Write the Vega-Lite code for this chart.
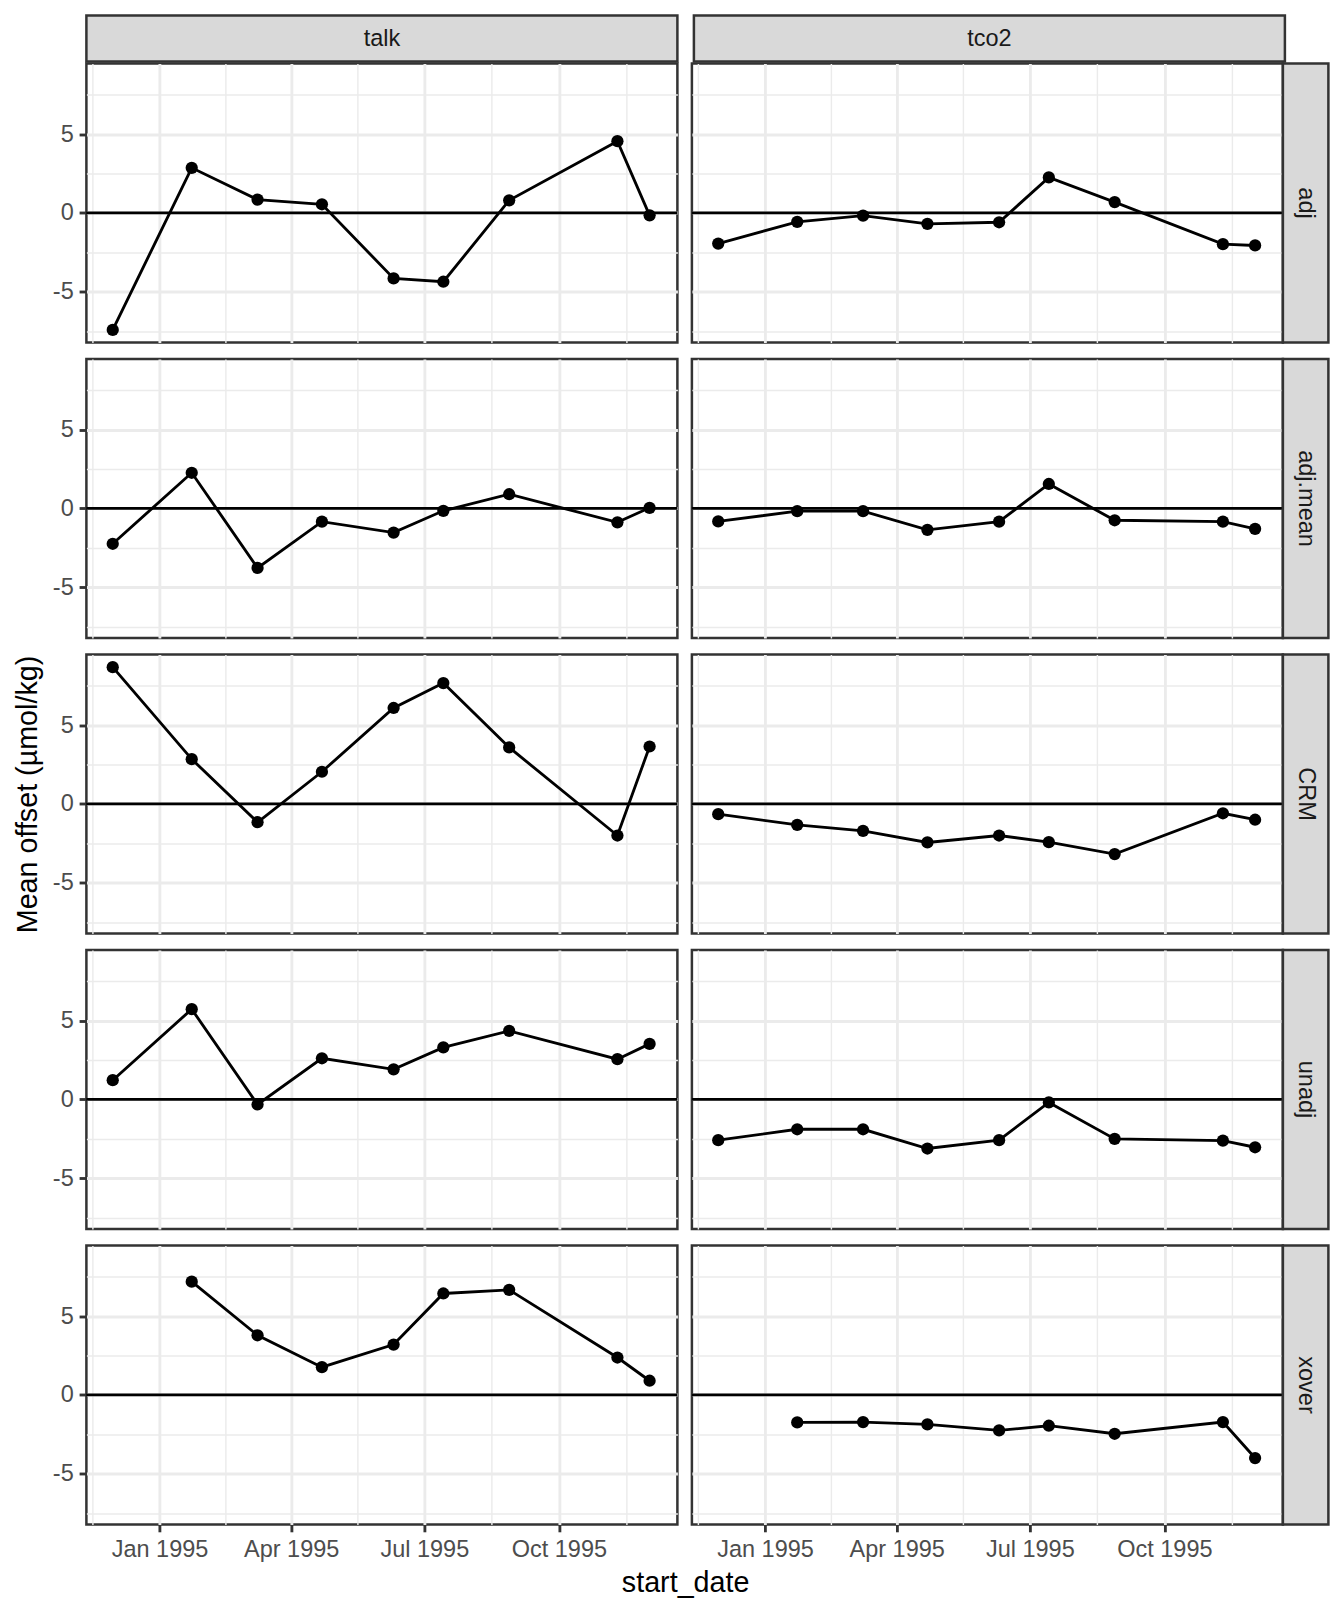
{
  "$schema": "https://vega.github.io/schema/vega-lite/v6.json",
  "autosize": {"type": "pad"},
  "padding": {"left": 11.4, "top": 13.5, "right": 5, "bottom": 5},
  "background": "white",
  "config": {
    "font": "Liberation Sans",
    "view": {"stroke": "#333333", "strokeWidth": 2.5, "fill": "white"},
    "axis": {
      "domain": false,
      "gridColor": "#EBEBEB",
      "gridOpacity": 1,
      "tickColor": "#333333",
      "tickWidth": 2.85,
      "tickSize": 7.3,
      "labelFont": "Liberation Sans",
      "labelFontSize": 23.5,
      "labelColor": "#4D4D4D",
      "labelPadding": 5.9,
      "titleFont": "Liberation Sans",
      "titleFontSize": 28.7,
      "titleFontWeight": "normal",
      "titleColor": "black"
    }
  },
  "datasets": {
    "offsets": [
      {"param": "talk", "type": "adj", "date": "1994-11-30", "offset": -7.41},
      {"param": "talk", "type": "adj", "date": "1995-01-23", "offset": 2.86},
      {"param": "talk", "type": "adj", "date": "1995-03-09", "offset": 0.84},
      {"param": "talk", "type": "adj", "date": "1995-04-22", "offset": 0.55},
      {"param": "talk", "type": "adj", "date": "1995-06-10", "offset": -4.15},
      {"param": "talk", "type": "adj", "date": "1995-07-14", "offset": -4.36},
      {"param": "talk", "type": "adj", "date": "1995-08-28", "offset": 0.8},
      {"param": "talk", "type": "adj", "date": "1995-11-10", "offset": 4.55},
      {"param": "talk", "type": "adj", "date": "1995-12-02", "offset": -0.15},
      {"param": "tco2", "type": "adj", "date": "1994-11-30", "offset": -1.94},
      {"param": "tco2", "type": "adj", "date": "1995-01-23", "offset": -0.57},
      {"param": "tco2", "type": "adj", "date": "1995-03-09", "offset": -0.17},
      {"param": "tco2", "type": "adj", "date": "1995-04-22", "offset": -0.69},
      {"param": "tco2", "type": "adj", "date": "1995-06-10", "offset": -0.59},
      {"param": "tco2", "type": "adj", "date": "1995-07-14", "offset": 2.25},
      {"param": "tco2", "type": "adj", "date": "1995-08-28", "offset": 0.69},
      {"param": "tco2", "type": "adj", "date": "1995-11-10", "offset": -1.98},
      {"param": "tco2", "type": "adj", "date": "1995-12-02", "offset": -2.06},
      {"param": "talk", "type": "adj.mean", "date": "1994-11-30", "offset": -2.24},
      {"param": "talk", "type": "adj.mean", "date": "1995-01-23", "offset": 2.26},
      {"param": "talk", "type": "adj.mean", "date": "1995-03-09", "offset": -3.77},
      {"param": "talk", "type": "adj.mean", "date": "1995-04-22", "offset": -0.84},
      {"param": "talk", "type": "adj.mean", "date": "1995-06-10", "offset": -1.53},
      {"param": "talk", "type": "adj.mean", "date": "1995-07-14", "offset": -0.15},
      {"param": "talk", "type": "adj.mean", "date": "1995-08-28", "offset": 0.9},
      {"param": "talk", "type": "adj.mean", "date": "1995-11-10", "offset": -0.88},
      {"param": "talk", "type": "adj.mean", "date": "1995-12-02", "offset": 0.04},
      {"param": "tco2", "type": "adj.mean", "date": "1994-11-30", "offset": -0.82},
      {"param": "tco2", "type": "adj.mean", "date": "1995-01-23", "offset": -0.17},
      {"param": "tco2", "type": "adj.mean", "date": "1995-03-09", "offset": -0.17},
      {"param": "tco2", "type": "adj.mean", "date": "1995-04-22", "offset": -1.36},
      {"param": "tco2", "type": "adj.mean", "date": "1995-06-10", "offset": -0.84},
      {"param": "tco2", "type": "adj.mean", "date": "1995-07-14", "offset": 1.55},
      {"param": "tco2", "type": "adj.mean", "date": "1995-08-28", "offset": -0.75},
      {"param": "tco2", "type": "adj.mean", "date": "1995-11-10", "offset": -0.84},
      {"param": "tco2", "type": "adj.mean", "date": "1995-12-02", "offset": -1.29},
      {"param": "talk", "type": "CRM", "date": "1994-11-30", "offset": 8.67},
      {"param": "talk", "type": "CRM", "date": "1995-01-23", "offset": 2.84},
      {"param": "talk", "type": "CRM", "date": "1995-03-09", "offset": -1.16},
      {"param": "talk", "type": "CRM", "date": "1995-04-22", "offset": 2.04},
      {"param": "talk", "type": "CRM", "date": "1995-06-10", "offset": 6.08},
      {"param": "talk", "type": "CRM", "date": "1995-07-14", "offset": 7.66},
      {"param": "talk", "type": "CRM", "date": "1995-08-28", "offset": 3.58},
      {"param": "talk", "type": "CRM", "date": "1995-11-10", "offset": -2.0},
      {"param": "talk", "type": "CRM", "date": "1995-12-02", "offset": 3.64},
      {"param": "tco2", "type": "CRM", "date": "1994-11-30", "offset": -0.65},
      {"param": "tco2", "type": "CRM", "date": "1995-01-23", "offset": -1.33},
      {"param": "tco2", "type": "CRM", "date": "1995-03-09", "offset": -1.71},
      {"param": "tco2", "type": "CRM", "date": "1995-04-22", "offset": -2.44},
      {"param": "tco2", "type": "CRM", "date": "1995-06-10", "offset": -2.0},
      {"param": "tco2", "type": "CRM", "date": "1995-07-14", "offset": -2.42},
      {"param": "tco2", "type": "CRM", "date": "1995-08-28", "offset": -3.18},
      {"param": "tco2", "type": "CRM", "date": "1995-11-10", "offset": -0.59},
      {"param": "tco2", "type": "CRM", "date": "1995-12-02", "offset": -1.0},
      {"param": "talk", "type": "unadj", "date": "1994-11-30", "offset": 1.22},
      {"param": "talk", "type": "unadj", "date": "1995-01-23", "offset": 5.72},
      {"param": "talk", "type": "unadj", "date": "1995-03-09", "offset": -0.32},
      {"param": "talk", "type": "unadj", "date": "1995-04-22", "offset": 2.61},
      {"param": "talk", "type": "unadj", "date": "1995-06-10", "offset": 1.91},
      {"param": "talk", "type": "unadj", "date": "1995-07-14", "offset": 3.3},
      {"param": "talk", "type": "unadj", "date": "1995-08-28", "offset": 4.34},
      {"param": "talk", "type": "unadj", "date": "1995-11-10", "offset": 2.55},
      {"param": "talk", "type": "unadj", "date": "1995-12-02", "offset": 3.52},
      {"param": "tco2", "type": "unadj", "date": "1994-11-30", "offset": -2.58},
      {"param": "tco2", "type": "unadj", "date": "1995-01-23", "offset": -1.89},
      {"param": "tco2", "type": "unadj", "date": "1995-03-09", "offset": -1.89},
      {"param": "tco2", "type": "unadj", "date": "1995-04-22", "offset": -3.11},
      {"param": "tco2", "type": "unadj", "date": "1995-06-10", "offset": -2.58},
      {"param": "tco2", "type": "unadj", "date": "1995-07-14", "offset": -0.19},
      {"param": "tco2", "type": "unadj", "date": "1995-08-28", "offset": -2.5},
      {"param": "tco2", "type": "unadj", "date": "1995-11-10", "offset": -2.61},
      {"param": "tco2", "type": "unadj", "date": "1995-12-02", "offset": -3.03},
      {"param": "talk", "type": "xover", "date": "1995-01-23", "offset": 7.18},
      {"param": "talk", "type": "xover", "date": "1995-03-09", "offset": 3.78},
      {"param": "talk", "type": "xover", "date": "1995-04-22", "offset": 1.76},
      {"param": "talk", "type": "xover", "date": "1995-06-10", "offset": 3.19},
      {"param": "talk", "type": "xover", "date": "1995-07-14", "offset": 6.43},
      {"param": "talk", "type": "xover", "date": "1995-08-28", "offset": 6.66},
      {"param": "talk", "type": "xover", "date": "1995-11-10", "offset": 2.37},
      {"param": "talk", "type": "xover", "date": "1995-12-02", "offset": 0.9},
      {"param": "tco2", "type": "xover", "date": "1995-01-23", "offset": -1.74},
      {"param": "tco2", "type": "xover", "date": "1995-03-09", "offset": -1.72},
      {"param": "tco2", "type": "xover", "date": "1995-04-22", "offset": -1.87},
      {"param": "tco2", "type": "xover", "date": "1995-06-10", "offset": -2.25},
      {"param": "tco2", "type": "xover", "date": "1995-07-14", "offset": -1.95},
      {"param": "tco2", "type": "xover", "date": "1995-08-28", "offset": -2.46},
      {"param": "tco2", "type": "xover", "date": "1995-11-10", "offset": -1.72},
      {"param": "tco2", "type": "xover", "date": "1995-12-02", "offset": -4.0}
    ]
  },
  "spacing": 12.5,
  "vconcat": [
    {
      "spacing": -6,
      "vconcat": [
        {
          "bounds": "flush",
          "spacing": 16.5,
          "hconcat": [
            {"width": 591, "height": 46, "data": {"values": [{"strip": "talk"}]}, "view": {"fill": "#D9D9D9", "stroke": "#333333", "strokeWidth": 2.5}, "mark": {"type": "text", "font": "Liberation Sans", "fontSize": 23.5, "color": "#1A1A1A"}, "encoding": {"text": {"field": "strip", "type": "nominal"}}},
            {"width": 591, "height": 46, "data": {"values": [{"strip": "tco2"}]}, "view": {"fill": "#D9D9D9", "stroke": "#333333", "strokeWidth": 2.5}, "mark": {"type": "text", "font": "Liberation Sans", "fontSize": 23.5, "color": "#1A1A1A"}, "encoding": {"text": {"field": "strip", "type": "nominal"}}}
          ]
        },
        {
          "spacing": 8.5,
          "hconcat": [
            {
              "width": 591, "height": 279,
              "layer": [
                {"data": {"values": [{"yintercept": 0}]}, "mark": {"type": "rule", "color": "black", "strokeWidth": 2.85}, "encoding": {"y": {"field": "yintercept", "type": "quantitative", "scale": {"domain": [-8.21, 9.47], "nice": false, "zero": false}}}},
                {"data": {"name": "offsets"}, "transform": [{"filter": "datum.param == 'talk' && datum.type == 'adj'"}],
                 "mark": {"type": "line", "color": "black", "strokeWidth": 2.85, "point": {"filled": true, "size": 150, "color": "black", "opacity": 1}},
                 "encoding": {
                   "x": {"field": "date", "type": "temporal", "scale": {"domain": [{"year": 1994, "month": 11, "date": 12}, {"year": 1995, "month": 12, "date": 21}]},
                         "axis": {"values": [{"year": 1994, "month": 11, "date": 16}, {"year": 1995, "month": 1, "date": 1}, {"year": 1995, "month": 2, "date": 15}, {"year": 1995, "month": 4, "date": 1}, {"year": 1995, "month": 5, "date": 16}, {"year": 1995, "month": 7, "date": 1}, {"year": 1995, "month": 8, "date": 16}, {"year": 1995, "month": 10, "date": 1}, {"year": 1995, "month": 11, "date": 16}], "title": null, "labels": false, "ticks": false, "gridWidth": {"condition": {"test": "date(datum.value) == 1", "value": 2.85}, "value": 1.42}}},
                   "y": {"field": "offset", "type": "quantitative", "scale": {"domain": [-8.21, 9.47], "nice": false, "zero": false},
                         "axis": {"values": [-7.5, -5, -2.5, 0, 2.5, 5, 7.5], "title": null, "labelExpr": "datum.value % 5 == 0 ? '' + datum.value : ''", "labelOverlap": false, "labelFlush": false, "gridWidth": {"condition": {"test": "datum.value % 5 == 0", "value": 2.85}, "value": 1.42}, "tickOpacity": {"condition": {"test": "datum.value % 5 == 0", "value": 1}, "value": 0}}}
                 }}
              ]
            },
            {
              "bounds": "flush",
              "spacing": 0,
              "hconcat": [
                {
                  "width": 591, "height": 279,
                  "layer": [
                    {"data": {"values": [{"yintercept": 0}]}, "mark": {"type": "rule", "color": "black", "strokeWidth": 2.85}, "encoding": {"y": {"field": "yintercept", "type": "quantitative", "scale": {"domain": [-8.21, 9.47], "nice": false, "zero": false}}}},
                    {"data": {"name": "offsets"}, "transform": [{"filter": "datum.param == 'tco2' && datum.type == 'adj'"}],
                     "mark": {"type": "line", "color": "black", "strokeWidth": 2.85, "point": {"filled": true, "size": 150, "color": "black", "opacity": 1}},
                     "encoding": {
                       "x": {"field": "date", "type": "temporal", "scale": {"domain": [{"year": 1994, "month": 11, "date": 12}, {"year": 1995, "month": 12, "date": 21}]},
                             "axis": {"values": [{"year": 1994, "month": 11, "date": 16}, {"year": 1995, "month": 1, "date": 1}, {"year": 1995, "month": 2, "date": 15}, {"year": 1995, "month": 4, "date": 1}, {"year": 1995, "month": 5, "date": 16}, {"year": 1995, "month": 7, "date": 1}, {"year": 1995, "month": 8, "date": 16}, {"year": 1995, "month": 10, "date": 1}, {"year": 1995, "month": 11, "date": 16}], "title": null, "labels": false, "ticks": false, "gridWidth": {"condition": {"test": "date(datum.value) == 1", "value": 2.85}, "value": 1.42}}},
                       "y": {"field": "offset", "type": "quantitative", "scale": {"domain": [-8.21, 9.47], "nice": false, "zero": false},
                             "axis": {"values": [-7.5, -5, -2.5, 0, 2.5, 5, 7.5], "title": null, "labels": false, "ticks": false, "gridWidth": {"condition": {"test": "datum.value % 5 == 0", "value": 2.85}, "value": 1.42}}}
                     }}
                  ]
                },
                {"width": 45.5, "height": 279, "data": {"values": [{"strip": "adj"}]}, "view": {"fill": "#D9D9D9", "stroke": "#333333", "strokeWidth": 2.5}, "mark": {"type": "text", "angle": 90, "font": "Liberation Sans", "fontSize": 23.5, "color": "#1A1A1A"}, "encoding": {"text": {"field": "strip", "type": "nominal"}}}
              ]
            }
          ]
        }
      ]
    },
    {
      "spacing": 8.5,
      "hconcat": [
        {
          "width": 591, "height": 279,
          "layer": [
            {"data": {"values": [{"yintercept": 0}]}, "mark": {"type": "rule", "color": "black", "strokeWidth": 2.85}, "encoding": {"y": {"field": "yintercept", "type": "quantitative", "scale": {"domain": [-8.21, 9.47], "nice": false, "zero": false}}}},
            {"data": {"name": "offsets"}, "transform": [{"filter": "datum.param == 'talk' && datum.type == 'adj.mean'"}],
             "mark": {"type": "line", "color": "black", "strokeWidth": 2.85, "point": {"filled": true, "size": 150, "color": "black", "opacity": 1}},
             "encoding": {
               "x": {"field": "date", "type": "temporal", "scale": {"domain": [{"year": 1994, "month": 11, "date": 12}, {"year": 1995, "month": 12, "date": 21}]},
                     "axis": {"values": [{"year": 1994, "month": 11, "date": 16}, {"year": 1995, "month": 1, "date": 1}, {"year": 1995, "month": 2, "date": 15}, {"year": 1995, "month": 4, "date": 1}, {"year": 1995, "month": 5, "date": 16}, {"year": 1995, "month": 7, "date": 1}, {"year": 1995, "month": 8, "date": 16}, {"year": 1995, "month": 10, "date": 1}, {"year": 1995, "month": 11, "date": 16}], "title": null, "labels": false, "ticks": false, "gridWidth": {"condition": {"test": "date(datum.value) == 1", "value": 2.85}, "value": 1.42}}},
               "y": {"field": "offset", "type": "quantitative", "scale": {"domain": [-8.21, 9.47], "nice": false, "zero": false},
                     "axis": {"values": [-7.5, -5, -2.5, 0, 2.5, 5, 7.5], "title": null, "labelExpr": "datum.value % 5 == 0 ? '' + datum.value : ''", "labelOverlap": false, "labelFlush": false, "gridWidth": {"condition": {"test": "datum.value % 5 == 0", "value": 2.85}, "value": 1.42}, "tickOpacity": {"condition": {"test": "datum.value % 5 == 0", "value": 1}, "value": 0}}}
             }}
          ]
        },
        {
          "bounds": "flush",
          "spacing": 0,
          "hconcat": [
            {
              "width": 591, "height": 279,
              "layer": [
                {"data": {"values": [{"yintercept": 0}]}, "mark": {"type": "rule", "color": "black", "strokeWidth": 2.85}, "encoding": {"y": {"field": "yintercept", "type": "quantitative", "scale": {"domain": [-8.21, 9.47], "nice": false, "zero": false}}}},
                {"data": {"name": "offsets"}, "transform": [{"filter": "datum.param == 'tco2' && datum.type == 'adj.mean'"}],
                 "mark": {"type": "line", "color": "black", "strokeWidth": 2.85, "point": {"filled": true, "size": 150, "color": "black", "opacity": 1}},
                 "encoding": {
                   "x": {"field": "date", "type": "temporal", "scale": {"domain": [{"year": 1994, "month": 11, "date": 12}, {"year": 1995, "month": 12, "date": 21}]},
                         "axis": {"values": [{"year": 1994, "month": 11, "date": 16}, {"year": 1995, "month": 1, "date": 1}, {"year": 1995, "month": 2, "date": 15}, {"year": 1995, "month": 4, "date": 1}, {"year": 1995, "month": 5, "date": 16}, {"year": 1995, "month": 7, "date": 1}, {"year": 1995, "month": 8, "date": 16}, {"year": 1995, "month": 10, "date": 1}, {"year": 1995, "month": 11, "date": 16}], "title": null, "labels": false, "ticks": false, "gridWidth": {"condition": {"test": "date(datum.value) == 1", "value": 2.85}, "value": 1.42}}},
                   "y": {"field": "offset", "type": "quantitative", "scale": {"domain": [-8.21, 9.47], "nice": false, "zero": false},
                         "axis": {"values": [-7.5, -5, -2.5, 0, 2.5, 5, 7.5], "title": null, "labels": false, "ticks": false, "gridWidth": {"condition": {"test": "datum.value % 5 == 0", "value": 2.85}, "value": 1.42}}}
                 }}
              ]
            },
            {"width": 45.5, "height": 279, "data": {"values": [{"strip": "adj.mean"}]}, "view": {"fill": "#D9D9D9", "stroke": "#333333", "strokeWidth": 2.5}, "mark": {"type": "text", "angle": 90, "font": "Liberation Sans", "fontSize": 23.5, "color": "#1A1A1A"}, "encoding": {"text": {"field": "strip", "type": "nominal"}}}
          ]
        }
      ]
    },
    {
      "spacing": 8.5,
      "hconcat": [
        {
          "width": 591, "height": 279,
          "layer": [
            {"data": {"values": [{"yintercept": 0}]}, "mark": {"type": "rule", "color": "black", "strokeWidth": 2.85}, "encoding": {"y": {"field": "yintercept", "type": "quantitative", "scale": {"domain": [-8.21, 9.47], "nice": false, "zero": false}}}},
            {"data": {"name": "offsets"}, "transform": [{"filter": "datum.param == 'talk' && datum.type == 'CRM'"}],
             "mark": {"type": "line", "color": "black", "strokeWidth": 2.85, "point": {"filled": true, "size": 150, "color": "black", "opacity": 1}},
             "encoding": {
               "x": {"field": "date", "type": "temporal", "scale": {"domain": [{"year": 1994, "month": 11, "date": 12}, {"year": 1995, "month": 12, "date": 21}]},
                     "axis": {"values": [{"year": 1994, "month": 11, "date": 16}, {"year": 1995, "month": 1, "date": 1}, {"year": 1995, "month": 2, "date": 15}, {"year": 1995, "month": 4, "date": 1}, {"year": 1995, "month": 5, "date": 16}, {"year": 1995, "month": 7, "date": 1}, {"year": 1995, "month": 8, "date": 16}, {"year": 1995, "month": 10, "date": 1}, {"year": 1995, "month": 11, "date": 16}], "title": null, "labels": false, "ticks": false, "gridWidth": {"condition": {"test": "date(datum.value) == 1", "value": 2.85}, "value": 1.42}}},
               "y": {"field": "offset", "type": "quantitative", "scale": {"domain": [-8.21, 9.47], "nice": false, "zero": false},
                     "axis": {"values": [-7.5, -5, -2.5, 0, 2.5, 5, 7.5], "title": "Mean offset (µmol/kg)", "titlePadding": 10, "labelExpr": "datum.value % 5 == 0 ? '' + datum.value : ''", "labelOverlap": false, "labelFlush": false, "gridWidth": {"condition": {"test": "datum.value % 5 == 0", "value": 2.85}, "value": 1.42}, "tickOpacity": {"condition": {"test": "datum.value % 5 == 0", "value": 1}, "value": 0}}}
             }}
          ]
        },
        {
          "bounds": "flush",
          "spacing": 0,
          "hconcat": [
            {
              "width": 591, "height": 279,
              "layer": [
                {"data": {"values": [{"yintercept": 0}]}, "mark": {"type": "rule", "color": "black", "strokeWidth": 2.85}, "encoding": {"y": {"field": "yintercept", "type": "quantitative", "scale": {"domain": [-8.21, 9.47], "nice": false, "zero": false}}}},
                {"data": {"name": "offsets"}, "transform": [{"filter": "datum.param == 'tco2' && datum.type == 'CRM'"}],
                 "mark": {"type": "line", "color": "black", "strokeWidth": 2.85, "point": {"filled": true, "size": 150, "color": "black", "opacity": 1}},
                 "encoding": {
                   "x": {"field": "date", "type": "temporal", "scale": {"domain": [{"year": 1994, "month": 11, "date": 12}, {"year": 1995, "month": 12, "date": 21}]},
                         "axis": {"values": [{"year": 1994, "month": 11, "date": 16}, {"year": 1995, "month": 1, "date": 1}, {"year": 1995, "month": 2, "date": 15}, {"year": 1995, "month": 4, "date": 1}, {"year": 1995, "month": 5, "date": 16}, {"year": 1995, "month": 7, "date": 1}, {"year": 1995, "month": 8, "date": 16}, {"year": 1995, "month": 10, "date": 1}, {"year": 1995, "month": 11, "date": 16}], "title": null, "labels": false, "ticks": false, "gridWidth": {"condition": {"test": "date(datum.value) == 1", "value": 2.85}, "value": 1.42}}},
                   "y": {"field": "offset", "type": "quantitative", "scale": {"domain": [-8.21, 9.47], "nice": false, "zero": false},
                         "axis": {"values": [-7.5, -5, -2.5, 0, 2.5, 5, 7.5], "title": null, "labels": false, "ticks": false, "gridWidth": {"condition": {"test": "datum.value % 5 == 0", "value": 2.85}, "value": 1.42}}}
                 }}
              ]
            },
            {"width": 45.5, "height": 279, "data": {"values": [{"strip": "CRM"}]}, "view": {"fill": "#D9D9D9", "stroke": "#333333", "strokeWidth": 2.5}, "mark": {"type": "text", "angle": 90, "font": "Liberation Sans", "fontSize": 23.5, "color": "#1A1A1A"}, "encoding": {"text": {"field": "strip", "type": "nominal"}}}
          ]
        }
      ]
    },
    {
      "spacing": 8.5,
      "hconcat": [
        {
          "width": 591, "height": 279,
          "layer": [
            {"data": {"values": [{"yintercept": 0}]}, "mark": {"type": "rule", "color": "black", "strokeWidth": 2.85}, "encoding": {"y": {"field": "yintercept", "type": "quantitative", "scale": {"domain": [-8.21, 9.47], "nice": false, "zero": false}}}},
            {"data": {"name": "offsets"}, "transform": [{"filter": "datum.param == 'talk' && datum.type == 'unadj'"}],
             "mark": {"type": "line", "color": "black", "strokeWidth": 2.85, "point": {"filled": true, "size": 150, "color": "black", "opacity": 1}},
             "encoding": {
               "x": {"field": "date", "type": "temporal", "scale": {"domain": [{"year": 1994, "month": 11, "date": 12}, {"year": 1995, "month": 12, "date": 21}]},
                     "axis": {"values": [{"year": 1994, "month": 11, "date": 16}, {"year": 1995, "month": 1, "date": 1}, {"year": 1995, "month": 2, "date": 15}, {"year": 1995, "month": 4, "date": 1}, {"year": 1995, "month": 5, "date": 16}, {"year": 1995, "month": 7, "date": 1}, {"year": 1995, "month": 8, "date": 16}, {"year": 1995, "month": 10, "date": 1}, {"year": 1995, "month": 11, "date": 16}], "title": null, "labels": false, "ticks": false, "gridWidth": {"condition": {"test": "date(datum.value) == 1", "value": 2.85}, "value": 1.42}}},
               "y": {"field": "offset", "type": "quantitative", "scale": {"domain": [-8.21, 9.47], "nice": false, "zero": false},
                     "axis": {"values": [-7.5, -5, -2.5, 0, 2.5, 5, 7.5], "title": null, "labelExpr": "datum.value % 5 == 0 ? '' + datum.value : ''", "labelOverlap": false, "labelFlush": false, "gridWidth": {"condition": {"test": "datum.value % 5 == 0", "value": 2.85}, "value": 1.42}, "tickOpacity": {"condition": {"test": "datum.value % 5 == 0", "value": 1}, "value": 0}}}
             }}
          ]
        },
        {
          "bounds": "flush",
          "spacing": 0,
          "hconcat": [
            {
              "width": 591, "height": 279,
              "layer": [
                {"data": {"values": [{"yintercept": 0}]}, "mark": {"type": "rule", "color": "black", "strokeWidth": 2.85}, "encoding": {"y": {"field": "yintercept", "type": "quantitative", "scale": {"domain": [-8.21, 9.47], "nice": false, "zero": false}}}},
                {"data": {"name": "offsets"}, "transform": [{"filter": "datum.param == 'tco2' && datum.type == 'unadj'"}],
                 "mark": {"type": "line", "color": "black", "strokeWidth": 2.85, "point": {"filled": true, "size": 150, "color": "black", "opacity": 1}},
                 "encoding": {
                   "x": {"field": "date", "type": "temporal", "scale": {"domain": [{"year": 1994, "month": 11, "date": 12}, {"year": 1995, "month": 12, "date": 21}]},
                         "axis": {"values": [{"year": 1994, "month": 11, "date": 16}, {"year": 1995, "month": 1, "date": 1}, {"year": 1995, "month": 2, "date": 15}, {"year": 1995, "month": 4, "date": 1}, {"year": 1995, "month": 5, "date": 16}, {"year": 1995, "month": 7, "date": 1}, {"year": 1995, "month": 8, "date": 16}, {"year": 1995, "month": 10, "date": 1}, {"year": 1995, "month": 11, "date": 16}], "title": null, "labels": false, "ticks": false, "gridWidth": {"condition": {"test": "date(datum.value) == 1", "value": 2.85}, "value": 1.42}}},
                   "y": {"field": "offset", "type": "quantitative", "scale": {"domain": [-8.21, 9.47], "nice": false, "zero": false},
                         "axis": {"values": [-7.5, -5, -2.5, 0, 2.5, 5, 7.5], "title": null, "labels": false, "ticks": false, "gridWidth": {"condition": {"test": "datum.value % 5 == 0", "value": 2.85}, "value": 1.42}}}
                 }}
              ]
            },
            {"width": 45.5, "height": 279, "data": {"values": [{"strip": "unadj"}]}, "view": {"fill": "#D9D9D9", "stroke": "#333333", "strokeWidth": 2.5}, "mark": {"type": "text", "angle": 90, "font": "Liberation Sans", "fontSize": 23.5, "color": "#1A1A1A"}, "encoding": {"text": {"field": "strip", "type": "nominal"}}}
          ]
        }
      ]
    },
    {
      "spacing": 6,
      "vconcat": [
        {
          "spacing": 8.5,
          "hconcat": [
            {
              "width": 591, "height": 279,
              "layer": [
                {"data": {"values": [{"yintercept": 0}]}, "mark": {"type": "rule", "color": "black", "strokeWidth": 2.85}, "encoding": {"y": {"field": "yintercept", "type": "quantitative", "scale": {"domain": [-8.21, 9.47], "nice": false, "zero": false}}}},
                {"data": {"name": "offsets"}, "transform": [{"filter": "datum.param == 'talk' && datum.type == 'xover'"}],
                 "mark": {"type": "line", "color": "black", "strokeWidth": 2.85, "point": {"filled": true, "size": 150, "color": "black", "opacity": 1}},
                 "encoding": {
                   "x": {"field": "date", "type": "temporal", "scale": {"domain": [{"year": 1994, "month": 11, "date": 12}, {"year": 1995, "month": 12, "date": 21}]},
                         "axis": {"values": [{"year": 1994, "month": 11, "date": 16}, {"year": 1995, "month": 1, "date": 1}, {"year": 1995, "month": 2, "date": 15}, {"year": 1995, "month": 4, "date": 1}, {"year": 1995, "month": 5, "date": 16}, {"year": 1995, "month": 7, "date": 1}, {"year": 1995, "month": 8, "date": 16}, {"year": 1995, "month": 10, "date": 1}, {"year": 1995, "month": 11, "date": 16}], "title": null, "labelExpr": "date(datum.value) == 1 ? timeFormat(datum.value, '%b %Y') : ''", "labelOverlap": false, "labelFlush": false, "gridWidth": {"condition": {"test": "date(datum.value) == 1", "value": 2.85}, "value": 1.42}, "tickOpacity": {"condition": {"test": "date(datum.value) == 1", "value": 1}, "value": 0}}},
                   "y": {"field": "offset", "type": "quantitative", "scale": {"domain": [-8.21, 9.47], "nice": false, "zero": false},
                         "axis": {"values": [-7.5, -5, -2.5, 0, 2.5, 5, 7.5], "title": null, "labelExpr": "datum.value % 5 == 0 ? '' + datum.value : ''", "labelOverlap": false, "labelFlush": false, "gridWidth": {"condition": {"test": "datum.value % 5 == 0", "value": 2.85}, "value": 1.42}, "tickOpacity": {"condition": {"test": "datum.value % 5 == 0", "value": 1}, "value": 0}}}
                 }}
              ]
            },
            {
              "bounds": "flush",
              "spacing": 0,
              "hconcat": [
                {
                  "width": 591, "height": 279,
                  "layer": [
                    {"data": {"values": [{"yintercept": 0}]}, "mark": {"type": "rule", "color": "black", "strokeWidth": 2.85}, "encoding": {"y": {"field": "yintercept", "type": "quantitative", "scale": {"domain": [-8.21, 9.47], "nice": false, "zero": false}}}},
                    {"data": {"name": "offsets"}, "transform": [{"filter": "datum.param == 'tco2' && datum.type == 'xover'"}],
                     "mark": {"type": "line", "color": "black", "strokeWidth": 2.85, "point": {"filled": true, "size": 150, "color": "black", "opacity": 1}},
                     "encoding": {
                       "x": {"field": "date", "type": "temporal", "scale": {"domain": [{"year": 1994, "month": 11, "date": 12}, {"year": 1995, "month": 12, "date": 21}]},
                             "axis": {"values": [{"year": 1994, "month": 11, "date": 16}, {"year": 1995, "month": 1, "date": 1}, {"year": 1995, "month": 2, "date": 15}, {"year": 1995, "month": 4, "date": 1}, {"year": 1995, "month": 5, "date": 16}, {"year": 1995, "month": 7, "date": 1}, {"year": 1995, "month": 8, "date": 16}, {"year": 1995, "month": 10, "date": 1}, {"year": 1995, "month": 11, "date": 16}], "title": null, "labelExpr": "date(datum.value) == 1 ? timeFormat(datum.value, '%b %Y') : ''", "labelOverlap": false, "labelFlush": false, "gridWidth": {"condition": {"test": "date(datum.value) == 1", "value": 2.85}, "value": 1.42}, "tickOpacity": {"condition": {"test": "date(datum.value) == 1", "value": 1}, "value": 0}}},
                       "y": {"field": "offset", "type": "quantitative", "scale": {"domain": [-8.21, 9.47], "nice": false, "zero": false},
                             "axis": {"values": [-7.5, -5, -2.5, 0, 2.5, 5, 7.5], "title": null, "labels": false, "ticks": false, "gridWidth": {"condition": {"test": "datum.value % 5 == 0", "value": 2.85}, "value": 1.42}}}
                     }}
                  ]
                },
                {"width": 45.5, "height": 279, "data": {"values": [{"strip": "xover"}]}, "view": {"fill": "#D9D9D9", "stroke": "#333333", "strokeWidth": 2.5}, "mark": {"type": "text", "angle": 90, "font": "Liberation Sans", "fontSize": 23.5, "color": "#1A1A1A"}, "encoding": {"text": {"field": "strip", "type": "nominal"}}}
              ]
            }
          ]
        },
        {"width": 1198.5, "height": 30, "data": {"values": [{"title": "start_date"}]}, "view": {"stroke": null, "fill": null}, "mark": {"type": "text", "font": "Liberation Sans", "fontSize": 28.7, "color": "black"}, "encoding": {"text": {"field": "title", "type": "nominal"}}}
      ]
    }
  ]
}
